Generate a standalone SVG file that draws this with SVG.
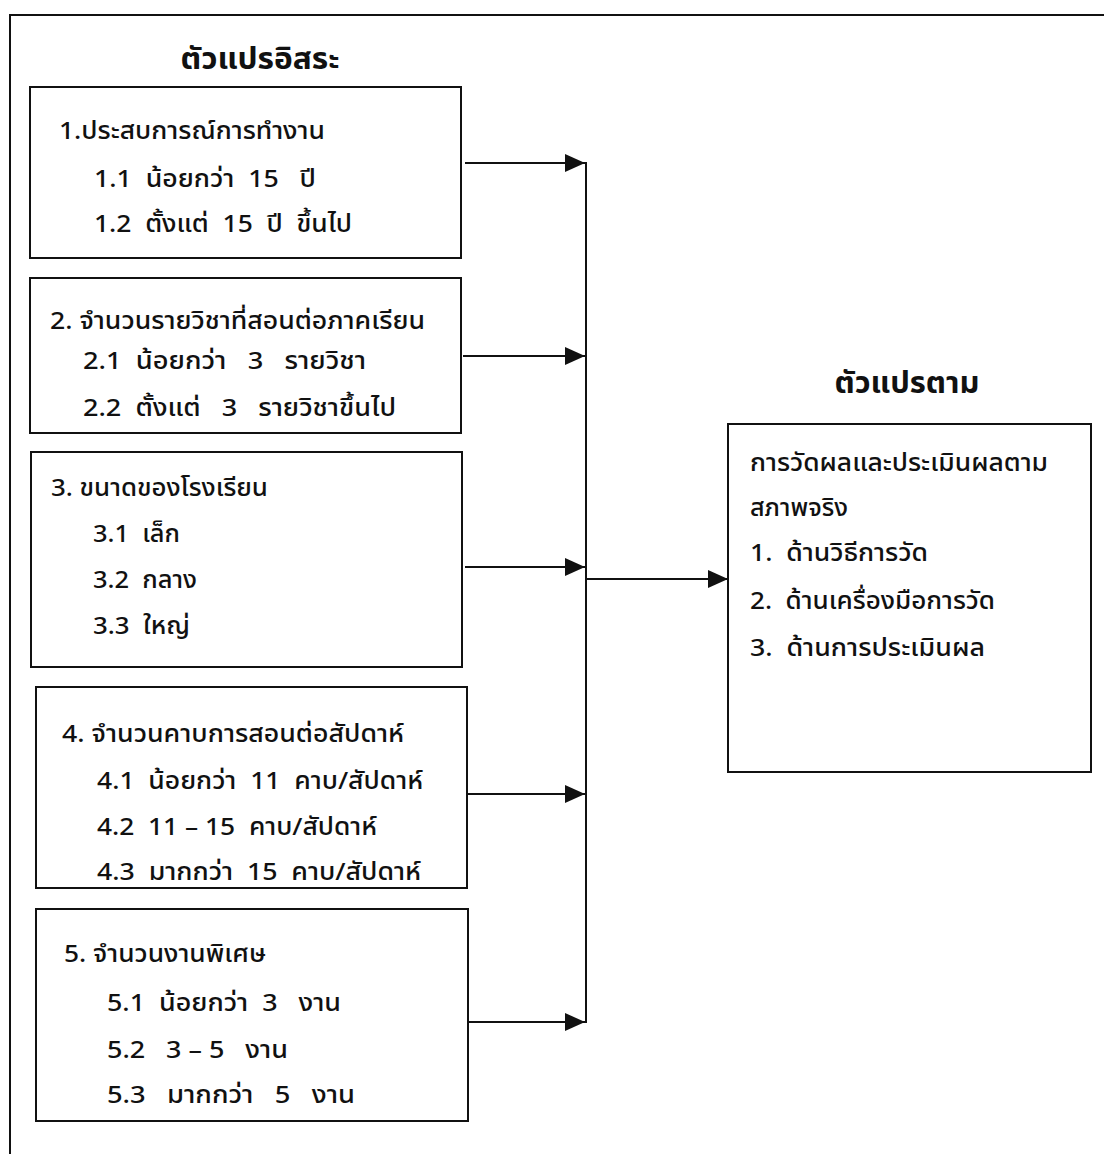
<svg xmlns="http://www.w3.org/2000/svg" width="1104" height="1154" viewBox="0 0 1104 1154">
<defs>
<style>
.box{fill:none;stroke:#111;stroke-width:2}
.frame{fill:none;stroke:#111;stroke-width:2}
.ln{fill:none;stroke:#111;stroke-width:2}
.t{font-family:"Noto Sans Thai","Loma","Tahoma","Liberation Sans","DejaVu Sans",sans-serif;font-size:24px;font-weight:500;fill:#111;white-space:pre}
.h{font-family:"Noto Sans Thai","Loma","Tahoma","Liberation Sans","DejaVu Sans",sans-serif;font-size:30px;font-weight:bold;fill:#111;text-anchor:middle}
</style>
<marker id="ah" markerUnits="userSpaceOnUse" markerWidth="20" markerHeight="18" refX="20" refY="9" orient="auto">
<path d="M0,0 L20,9 L0,18 z" fill="#111"/>
</marker>
</defs>
<rect width="1104" height="1154" fill="#fff"/>
<g id="frame">
<polyline class="frame" points="10,1154 10,15 1104,15"/>
<text class="h" x="260" y="69" textLength="159" lengthAdjust="spacingAndGlyphs">ตัวแปรอิสระ</text>
</g>
<g id="box1">
<rect class="box" x="30" y="87" width="431" height="171"/>
<text class="t" xml:space="preserve" x="59" y="139" textLength="266" lengthAdjust="spacingAndGlyphs">1.ประสบการณ์การทำงาน</text>
<text class="t" xml:space="preserve" x="94" y="187" textLength="222" lengthAdjust="spacingAndGlyphs">1.1  น้อยกว่า  15   ปี</text>
<text class="t" xml:space="preserve" x="94" y="232" textLength="258" lengthAdjust="spacingAndGlyphs">1.2  ตั้งแต่  15  ปี  ขึ้นไป</text>
</g>
<g id="box2">
<rect class="box" x="30" y="278" width="431" height="155"/>
<text class="t" xml:space="preserve" x="50" y="329" textLength="375" lengthAdjust="spacingAndGlyphs">2. จำนวนรายวิชาที่สอนต่อภาคเรียน</text>
<text class="t" xml:space="preserve" x="83" y="369" textLength="283" lengthAdjust="spacingAndGlyphs">2.1  น้อยกว่า   3   รายวิชา</text>
<text class="t" xml:space="preserve" x="83" y="416" textLength="313" lengthAdjust="spacingAndGlyphs">2.2  ตั้งแต่   3   รายวิชาขึ้นไป</text>
</g>
<g id="box3">
<rect class="box" x="31" y="452" width="431" height="215"/>
<text class="t" xml:space="preserve" x="51" y="496" textLength="217" lengthAdjust="spacingAndGlyphs">3. ขนาดของโรงเรียน</text>
<text class="t" xml:space="preserve" x="93" y="542" textLength="87" lengthAdjust="spacingAndGlyphs">3.1  เล็ก</text>
<text class="t" xml:space="preserve" x="93" y="588" textLength="104" lengthAdjust="spacingAndGlyphs">3.2  กลาง</text>
<text class="t" xml:space="preserve" x="93" y="634" textLength="97" lengthAdjust="spacingAndGlyphs">3.3  ใหญ่</text>
</g>
<g id="box4">
<rect class="box" x="36" y="687" width="431" height="201"/>
<text class="t" xml:space="preserve" x="62" y="742" textLength="342" lengthAdjust="spacingAndGlyphs">4. จำนวนคาบการสอนต่อสัปดาห์</text>
<text class="t" xml:space="preserve" x="97" y="789" textLength="326" lengthAdjust="spacingAndGlyphs">4.1  น้อยกว่า  11  คาบ/สัปดาห์</text>
<text class="t" xml:space="preserve" x="97" y="835" textLength="280" lengthAdjust="spacingAndGlyphs">4.2  11 – 15  คาบ/สัปดาห์</text>
<text class="t" xml:space="preserve" x="97" y="880" textLength="324" lengthAdjust="spacingAndGlyphs">4.3  มากกว่า  15  คาบ/สัปดาห์</text>
</g>
<g id="box5">
<rect class="box" x="36" y="909" width="432" height="212"/>
<text class="t" xml:space="preserve" x="64" y="962" textLength="202" lengthAdjust="spacingAndGlyphs">5. จำนวนงานพิเศษ</text>
<text class="t" xml:space="preserve" x="107" y="1011" textLength="234" lengthAdjust="spacingAndGlyphs">5.1  น้อยกว่า  3   งาน</text>
<text class="t" xml:space="preserve" x="107" y="1058" textLength="181" lengthAdjust="spacingAndGlyphs">5.2   3 – 5   งาน</text>
<text class="t" xml:space="preserve" x="107" y="1103" textLength="248" lengthAdjust="spacingAndGlyphs">5.3   มากกว่า   5   งาน</text>
</g>
<g id="dependent">
<text class="h" x="907" y="393" textLength="145" lengthAdjust="spacingAndGlyphs">ตัวแปรตาม</text>
<rect class="box" x="728" y="424" width="363" height="348"/>
<text class="t" xml:space="preserve" x="750" y="471" textLength="298" lengthAdjust="spacingAndGlyphs">การวัดผลและประเมินผลตาม</text>
<text class="t" xml:space="preserve" x="750" y="516" textLength="98" lengthAdjust="spacingAndGlyphs">สภาพจริง</text>
<text class="t" xml:space="preserve" x="750" y="561" textLength="178" lengthAdjust="spacingAndGlyphs">1.  ด้านวิธีการวัด</text>
<text class="t" xml:space="preserve" x="750" y="609" textLength="245" lengthAdjust="spacingAndGlyphs">2.  ด้านเครื่องมือการวัด</text>
<text class="t" xml:space="preserve" x="750" y="656" textLength="235" lengthAdjust="spacingAndGlyphs">3.  ด้านการประเมินผล</text>
</g>
<g id="connectors">
<line class="ln" x1="465" y1="163" x2="585" y2="163" marker-end="url(#ah)"/>
<line class="ln" x1="463" y1="356" x2="585" y2="356" marker-end="url(#ah)"/>
<line class="ln" x1="465" y1="567" x2="585" y2="567" marker-end="url(#ah)"/>
<line class="ln" x1="467" y1="794" x2="585" y2="794" marker-end="url(#ah)"/>
<line class="ln" x1="468" y1="1022" x2="585" y2="1022" marker-end="url(#ah)"/>
<line class="ln" x1="586" y1="162" x2="586" y2="1023"/>
<line class="ln" x1="586" y1="579" x2="728" y2="579" marker-end="url(#ah)"/>
</g>
</svg>
